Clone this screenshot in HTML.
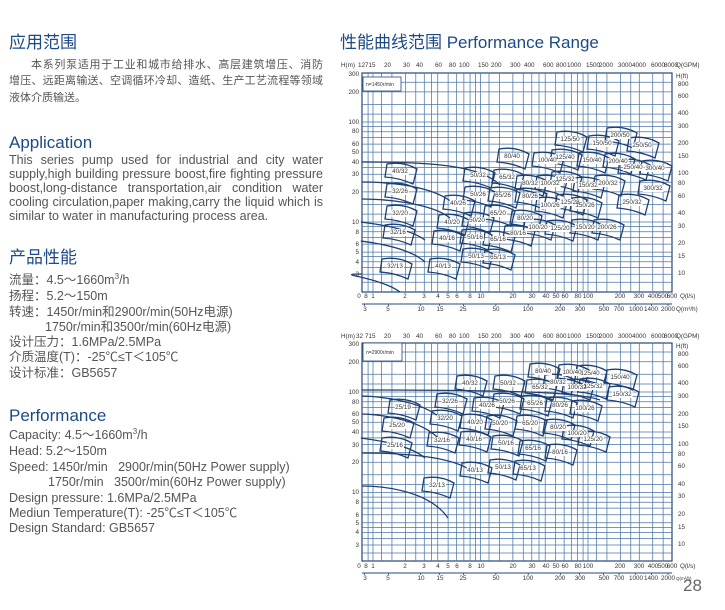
<!DOCTYPE html>
<html><head><meta charset="utf-8">
<style>
body{margin:0;width:725px;height:610px;background:#fff;position:relative;overflow:hidden;font-family:"Liberation Sans","Noto Sans CJK SC",sans-serif}
.h{position:absolute;color:#1c4a86;font-size:17px;line-height:20px;white-space:nowrap}
.t{position:absolute;color:#555;font-size:12.5px;line-height:14px;white-space:nowrap}
.t sup{font-size:8px;line-height:0;vertical-align:5px}
.p{position:absolute;left:9px;width:314px;color:#555;font-size:12.5px;line-height:14px;text-align:justify;text-align-last:left}
.c{position:absolute;left:9px;width:314px;color:#555;font-size:11px;line-height:14px;text-align:justify;text-align-last:justify;white-space:nowrap}
svg{position:absolute;left:0;top:0}
svg text{font-family:"Liberation Sans",sans-serif;font-size:6.3px;fill:#333}
</style></head><body>
<div class="h" style="left:9px;top:33px">应用范围</div>
<div class="c" style="top:58px;left:31px;width:292px">本系列泵适用于工业和城市给排水、高层建筑增压、消防</div>
<div class="c" style="top:74px">增压、远距离输送、空调循环冷却、造纸、生产工艺流程等领域</div>
<div class="c" style="top:91px;text-align-last:left">液体介质输送。</div>
<div class="h" style="left:9px;top:133px">Application</div>
<div class="p" style="top:153px">This series pump used for industrial and city water supply,high building pressure boost,fire fighting pressure boost,long-distance transportation,air condition water cooling circulation,paper making,carry the liquid which is similar to water in manufacturing process area.</div>
<div class="h" style="left:9px;top:248px">产品性能</div>
<div class="t" style="left:9px;top:273px">流量：4.5～1660m<sup>3</sup>/h</div>
<div class="t" style="left:9px;top:289px">扬程：5.2～150m</div>
<div class="t" style="left:9px;top:305px">转速：1450r/min和2900r/min(50Hz电源)</div>
<div class="t" style="left:45px;top:320px">1750r/min和3500r/min(60Hz电源)</div>
<div class="t" style="left:9px;top:335px">设计压力：1.6MPa/2.5MPa</div>
<div class="t" style="left:9px;top:350px">介质温度(T)：-25℃≤T＜105℃</div>
<div class="t" style="left:9px;top:366px">设计标准：GB5657</div>
<div class="h" style="left:9px;top:406px">Performance</div>
<div class="t" style="left:9px;top:428px">Capacity: 4.5～1660m<sup>3</sup>/h</div>
<div class="t" style="left:9px;top:444px">Head: 5.2～150m</div>
<div class="t" style="left:9px;top:460px">Speed: 1450r/min&nbsp;&nbsp;&nbsp;2900r/min(50Hz Power supply)</div>
<div class="t" style="left:48px;top:475px">1750r/min&nbsp;&nbsp;&nbsp;3500r/min(60Hz Power supply)</div>
<div class="t" style="left:9px;top:491px">Design pressure: 1.6MPa/2.5MPa</div>
<div class="t" style="left:9px;top:506px">Mediun Temperature(T): -25℃≤T＜105℃</div>
<div class="t" style="left:9px;top:521px">Design Standard: GB5657</div>
<div class="h" style="left:340px;top:33px">性能曲线范围 Performance Range</div>
<div style="position:absolute;left:683px;top:576px;font-size:17px;color:#666">28</div>

<svg id="s" width="725" height="610" xmlns="http://www.w3.org/2000/svg">
<g id="grid"></g>
<g id="curves" fill="none" stroke="#1f3f70" stroke-width="1.3"></g>
<g>
<text x="341" y="67">H(m)</text>
<text x="358" y="67">12</text><text x="365" y="67">715</text><text x="384" y="67">20</text><text x="403" y="67">30</text><text x="416" y="67">40</text><text x="435" y="67">60</text><text x="449" y="67">80</text><text x="459" y="67">100</text><text x="478" y="67">150</text><text x="491" y="67">200</text><text x="510" y="67">300</text><text x="524" y="67">400</text><text x="543" y="67">600</text><text x="556" y="67">800</text><text x="567" y="67">1000</text><text x="586" y="67">1500</text><text x="599" y="67">2000</text><text x="618" y="67">3000</text><text x="632" y="67">4000</text><text x="651" y="67">6000</text><text x="664" y="67">8000</text><text x="676" y="67">Q(GPM)</text>
<g text-anchor="end">
<text x="359" y="76">300</text><text x="359" y="94">200</text><text x="359" y="124">100</text><text x="359" y="133">80</text><text x="359" y="146">60</text><text x="359" y="154">50</text><text x="359" y="164">40</text><text x="359" y="176">30</text><text x="359" y="194">20</text><text x="359" y="224">10</text><text x="359" y="234">8</text><text x="359" y="246">6</text><text x="359" y="254">5</text><text x="359" y="264">4</text><text x="359" y="276">3</text>
</g>
<text x="676" y="78">H(ft)</text>
<text x="678" y="86">800</text><text x="678" y="98">600</text><text x="678" y="115">400</text><text x="678" y="128">300</text><text x="678" y="145">200</text><text x="678" y="158">150</text><text x="678" y="175">100</text><text x="678" y="185">80</text><text x="678" y="198">60</text><text x="678" y="215">40</text><text x="678" y="228">30</text><text x="678" y="245">20</text><text x="678" y="258">15</text><text x="678" y="275">10</text>
<g text-anchor="middle">
<text x="359" y="298">0</text><text x="366" y="298">8</text><text x="373" y="298">1</text><text x="405" y="298">2</text><text x="424" y="298">3</text><text x="438" y="298">4</text><text x="448" y="298">5</text><text x="457" y="298">6</text><text x="470" y="298">8</text><text x="481" y="298">10</text><text x="513" y="298">20</text><text x="532" y="298">30</text><text x="546" y="298">40</text><text x="556" y="298">50</text><text x="565" y="298">60</text><text x="578" y="298">80</text><text x="588" y="298">100</text><text x="620" y="298">200</text><text x="639" y="298">300</text><text x="653" y="298">400</text><text x="663" y="298">500</text><text x="672" y="298">600</text>
<text x="365" y="311">3</text><text x="388" y="311">5</text><text x="421" y="311">10</text><text x="440" y="311">15</text><text x="463" y="311">25</text><text x="496" y="311">50</text><text x="528" y="311">100</text><text x="560" y="311">200</text><text x="580" y="311">300</text><text x="604" y="311">500</text><text x="619" y="311">700</text><text x="636" y="311">1000</text><text x="651" y="311">1400</text><text x="668" y="311">2000</text>
</g>
<text x="680" y="298">Q(l/s)</text><text x="676" y="311">Q(m³/h)</text>
<rect x="363" y="77" width="38" height="14" fill="#fff" stroke="#24477a" stroke-width="0.8"/>
<text x="366" y="86" style="font-size:5px">n=1450r/min</text>

<text x="341" y="338">H(m)</text>
<text x="356" y="338">32</text><text x="365" y="338">715</text><text x="384" y="338">20</text><text x="403" y="338">30</text><text x="416" y="338">40</text><text x="435" y="338">60</text><text x="449" y="338">80</text><text x="459" y="338">100</text><text x="478" y="338">150</text><text x="491" y="338">200</text><text x="510" y="338">300</text><text x="524" y="338">400</text><text x="543" y="338">600</text><text x="556" y="338">800</text><text x="567" y="338">1000</text><text x="586" y="338">1500</text><text x="599" y="338">2000</text><text x="618" y="338">3000</text><text x="632" y="338">4000</text><text x="651" y="338">6000</text><text x="664" y="338">8000</text><text x="676" y="338">Q(GPM)</text>
<g text-anchor="end">
<text x="359" y="346">300</text><text x="359" y="364">200</text><text x="359" y="394">100</text><text x="359" y="404">80</text><text x="359" y="416">60</text><text x="359" y="424">50</text><text x="359" y="434">40</text><text x="359" y="447">30</text><text x="359" y="464">20</text><text x="359" y="494">10</text><text x="359" y="504">8</text><text x="359" y="517">6</text><text x="359" y="525">5</text><text x="359" y="534">4</text><text x="359" y="547">3</text>
</g>
<text x="676" y="348">H(ft)</text>
<text x="678" y="356">800</text><text x="678" y="368">600</text><text x="678" y="385">400</text><text x="678" y="398">300</text><text x="678" y="416">200</text><text x="678" y="428">150</text><text x="678" y="446">100</text><text x="678" y="456">80</text><text x="678" y="468">60</text><text x="678" y="486">40</text><text x="678" y="498">30</text><text x="678" y="516">20</text><text x="678" y="529">15</text><text x="678" y="546">10</text>
<g text-anchor="middle">
<text x="359" y="568">0</text><text x="366" y="568">8</text><text x="373" y="568">1</text><text x="405" y="568">2</text><text x="424" y="568">3</text><text x="438" y="568">4</text><text x="448" y="568">5</text><text x="457" y="568">6</text><text x="470" y="568">8</text><text x="481" y="568">10</text><text x="513" y="568">20</text><text x="532" y="568">30</text><text x="546" y="568">40</text><text x="556" y="568">50</text><text x="565" y="568">60</text><text x="578" y="568">80</text><text x="588" y="568">100</text><text x="620" y="568">200</text><text x="639" y="568">300</text><text x="653" y="568">400</text><text x="663" y="568">500</text><text x="672" y="568">600</text>
<text x="365" y="580">3</text><text x="388" y="580">5</text><text x="421" y="580">10</text><text x="440" y="580">15</text><text x="463" y="580">25</text><text x="496" y="580">50</text><text x="528" y="580">100</text><text x="560" y="580">200</text><text x="580" y="580">300</text><text x="604" y="580">500</text><text x="619" y="580">700</text><text x="636" y="580">1000</text><text x="651" y="580">1400</text><text x="668" y="580">2000</text>
</g>
<text x="680" y="568">Q(l/s)</text><text x="676" y="580" style="font-size:4.5px">Q(m³/h)</text>
<rect x="363" y="343" width="39" height="18" fill="#fff" stroke="#24477a" stroke-width="0.8"/>
<text x="366" y="354" style="font-size:5px">n=2900r/min</text>
</g>
<g id="labels" text-anchor="middle" style="font-family:'Liberation Mono',monospace">
<text x="400" y="173">40/32</text><text x="400" y="193">32/26</text><text x="400" y="215">32/20</text><text x="398" y="234">32/16</text><text x="395" y="268">32/13</text><text x="443" y="268">40/13</text><text x="447" y="240">40/16</text><text x="452" y="224">40/20</text><text x="458" y="205">40/26</text><text x="478" y="177">50/32</text><text x="478" y="196">50/26</text><text x="477" y="222">50/20</text><text x="475" y="239">50/16</text><text x="476" y="258">50/13</text><text x="498" y="259">65/13</text><text x="498" y="241">65/16</text><text x="498" y="215">65/20</text><text x="503" y="197">65/26</text><text x="507" y="179">65/32</text><text x="512" y="158">80/40</text><text x="530" y="185">80/32</text><text x="530" y="198">80/26</text><text x="525" y="220">80/20</text><text x="518" y="235">80/16</text><text x="547" y="162">100/40</text><text x="550" y="185">100/32</text><text x="550" y="207">100/26</text><text x="538" y="229">100/20</text><text x="570" y="141">125/50</text><text x="565" y="159">125/40</text><text x="565" y="181">125/32</text><text x="570" y="204">125/28</text><text x="560" y="230">125/20</text><text x="602" y="145">150/50</text><text x="592" y="162">150/40</text><text x="588" y="187">150/32</text><text x="585" y="207">150/26</text><text x="585" y="229">150/20</text><text x="620" y="137">200/50</text><text x="618" y="163">200/40</text><text x="608" y="185">200/32</text><text x="607" y="229">200/26</text><text x="642" y="147">250/50</text><text x="633" y="169">250/40</text><text x="632" y="204">250/32</text><text x="655" y="170">300/40</text><text x="653" y="190">300/32</text>
<text x="470" y="385">40/32</text><text x="508" y="385">50/32</text><text x="540" y="389">65/32</text><text x="543" y="373">80/40</text><text x="572" y="374">100/40</text><text x="558" y="384">80/32</text><text x="577" y="389">100/32</text><text x="590" y="375">125/40</text><text x="593" y="388">125/32</text><text x="620" y="379">150/40</text><text x="622" y="396">150/32</text><text x="450" y="403">32/26</text><text x="487" y="407">40/26</text><text x="507" y="403">50/26</text><text x="535" y="405">65/26</text><text x="560" y="407">80/26</text><text x="585" y="410">100/26</text><text x="403" y="409">25/19</text><text x="445" y="420">32/20</text><text x="475" y="424">40/20</text><text x="500" y="425">50/20</text><text x="530" y="425">65/20</text><text x="558" y="429">80/20</text><text x="577" y="435">100/20</text><text x="593" y="441">125/20</text><text x="397" y="427">25/20</text><text x="442" y="442">32/16</text><text x="474" y="441">40/16</text><text x="506" y="445">50/16</text><text x="533" y="450">65/16</text><text x="560" y="454">80/16</text><text x="395" y="447">25/16</text><text x="475" y="472">40/13</text><text x="503" y="469">50/13</text><text x="528" y="470">65/13</text><text x="437" y="487">32/13</text>
</g>
</svg>
<script>
(function(){
var NS="http://www.w3.org/2000/svg";
var g=document.getElementById('grid'),c=document.getElementById('curves');
function el(p,t,a){var e=document.createElementNS(NS,t);for(var k in a)e.setAttribute(k,a[k]);p.insertBefore(e,p.firstChild);return e;}
function X(q){return 373+107.5*Math.log10(q);}
var Qs=[0.9,1,1.2,1.5,2,2.5,3,3.5,4,5,6,7,8,9,10,12,15,20,25,30,35,40,50,60,70,80,90,100,120,150,200,250,300,400,500];
var Hs=[2.5,3,3.5,4,4.5,5,6,7,8,9,10,12,15,20,25,30,35,40,50,60,70,80,90,100,120,150,200,250];
var charts=[{t:73,b:292,Y:function(h){return 322-100*Math.log10(h);},ax:304},{t:343,b:561,Y:function(h){return 593-100.5*Math.log10(h);},ax:573}];
charts.forEach(function(ch){
  Qs.forEach(function(q){var x=X(q);el(g,'line',{x1:x,x2:x,y1:ch.t,y2:ch.b,stroke:'#4a76a8','stroke-width':0.75});});
  Hs.forEach(function(h){var y=ch.Y(h);if(y>ch.t&&y<ch.b)el(g,'line',{x1:362,x2:672,y1:y,y2:y,stroke:'#4a76a8','stroke-width':0.75});});
  el(g,'rect',{x:362,y:ch.t,width:310,height:ch.b-ch.t,fill:'none',stroke:'#24477a','stroke-width':1.2});
  el(g,'line',{x1:362,x2:672,y1:ch.ax,y2:ch.ax,stroke:'#24477a','stroke-width':1});
  [3,5,10,15,25,50,100,200,300,500,700,1000,1400,2000].forEach(function(m){var x=X(m/3.6);el(g,'line',{x1:x,x2:x,y1:ch.ax,y2:ch.ax+2,stroke:'#24477a','stroke-width':0.8});});
});
var labs=document.querySelectorAll('#labels text');
labs.forEach(function(t){
  var cx=+t.getAttribute('x'),cy=+t.getAttribute('y')-2,w=13,h=7;
  var d='M'+(cx-w)+','+(cy-h)+' Q'+(cx+3)+','+(cy-h-3)+' '+(cx+w+4)+','+(cy-h+5)+' L'+(cx+w)+','+(cy+h+6)+' Q'+(cx)+','+(cy+h)+' '+(cx-w-2)+','+(cy+h-1)+' Z';
  el(c,'path',{d:d});
  var bb=t.getBBox();
  el(document.getElementById('labels'),'rect',{x:bb.x-0.5,y:bb.y,width:bb.width+1,height:bb.height,fill:'#fff'});
});
var heads=[[162,500,185],[182,455,205],[199,450,218],[222,425,240],[241,425,262],[274,400,292],[390,600,400],[396,440,418],[414,440,440],[438,425,458],[453,470,470],[486,448,518]];
heads.forEach(function(a){el(c,'path',{d:'M362,'+a[0]+' C'+(a[1]-70)+','+a[0]+' '+(a[1]-20)+','+(a[0]+3)+' '+a[1]+','+a[2]});});
})();
</script>
</body></html>
